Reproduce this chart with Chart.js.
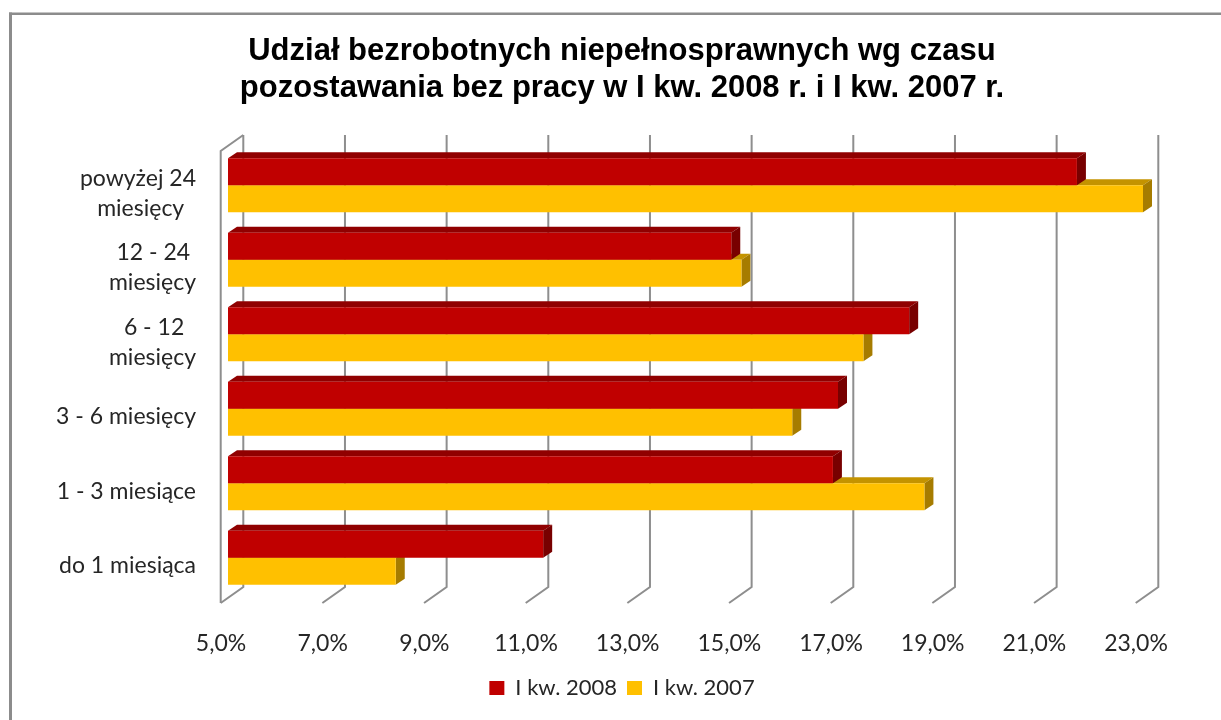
<!DOCTYPE html>
<html>
<head>
<meta charset="utf-8">
<script src="https://cdn.jsdelivr.net/npm/chart.js@4/dist/chart.umd.min.js"></script>
<style>
  html, body { margin: 0; padding: 0; background: #fff; }
</style>
</head>
<body>
<canvas id="unemployedChart" width="1221" height="720"></canvas>
<script>
const categories = [
    ['powyżej 24', 'miesięcy'],
    ['12 - 24', 'miesięcy'],
    ['6 - 12', 'miesięcy'],
    '3 - 6 miesięcy',
    '1 - 3 miesiące',
    'do 1 miesiąca'
];
const seriesNames = ['I kw. 2008', 'I kw. 2007'];
const share2008 = [21.7, 14.9, 18.4, 17.0, 16.9, 11.2];
const share2007 = [23.0, 15.1, 17.5, 16.1, 18.7, 8.3];
const axisMin = 5;
const axisMax = 23;
const axisStep = 2;

const frontColors = ['#c00000', '#ffc000'];
const topColors = ['#900000', '#c49300'];
const sideColors = ['#780000', '#a67c00'];

// Excel centres the lines of a wrapped label, so pad short lines with spaces
const measure = document.createElement('canvas').getContext('2d');
measure.font = '23px Lato';
function centerLines(label) {
    if (!Array.isArray(label)) return label;
    const w = l => measure.measureText(l).width;
    const widest = Math.max(...label.map(w));
    return label.map(l => {
        let s = l;
        const want = w(l) + (widest - w(l)) / 2;
        while (w(s + ' ') <= want + 2) s += ' ';
        return s;
    });
}

// fake 3D: back wall grid, floor lines and the top/side faces of bars
const fake3d = {
    id: 'fake3d',
    afterLayout(chart) {
        // category labels stick out into the left padding; widen their clip box
        chart.scales.y.left = 15;
    },
    beforeDraw(chart) {
        const ctx = chart.ctx;
        ctx.save();
        ctx.fillStyle = '#fff';
        ctx.fillRect(0, 0, chart.width, chart.height);
        ctx.strokeStyle = '#8c8c8c';
        ctx.lineWidth = 3;
        ctx.beginPath();
        ctx.moveTo(10.5, 12.5);
        ctx.lineTo(10.5, chart.height);
        ctx.stroke();
        ctx.lineWidth = 2.5;
        ctx.beginPath();
        ctx.moveTo(9, 13.75);
        ctx.lineTo(chart.width, 13.75);
        ctx.stroke();
        ctx.restore();
    },
    beforeDatasetsDraw(chart) {
        const { ctx, chartArea: area, scales: { x } } = chart;
        const backTop = area.top - 13;
        const backBottom = area.bottom - 8;
        const frontBottom = area.bottom + 8;
        ctx.save();
        ctx.lineWidth = 2;
        ctx.strokeStyle = '#8e8e8e';
        x.ticks.forEach(t => {
            const px = x.getPixelForValue(t.value);
            ctx.beginPath();
            ctx.moveTo(px + 15.3, backTop);
            ctx.lineTo(px + 15.3, backBottom);
            ctx.lineTo(px - 7.3, frontBottom);
            ctx.stroke();
        });
        const x0 = x.getPixelForValue(x.min);
        ctx.beginPath();
        ctx.moveTo(x0 - 7.3, frontBottom);
        ctx.lineTo(x0 - 7.3, backTop + 16);
        ctx.lineTo(x0 + 15.3, backTop);
        ctx.stroke();

        [1, 0].forEach(i => {
            chart.getDatasetMeta(i).data.forEach(bar => {
                const p = bar.getProps(['x', 'y', 'base', 'height'], true);
                const base = Math.max(p.base, area.left);
                const end = p.x;
                const top = p.y - p.height / 2;
                const bottom = p.y + p.height / 2;
                ctx.fillStyle = topColors[i];
                ctx.beginPath();
                ctx.moveTo(base, top);
                ctx.lineTo(end, top);
                ctx.lineTo(end + 9, top - 6);
                ctx.lineTo(base + 9, top - 6);
                ctx.closePath();
                ctx.fill();
                ctx.fillStyle = sideColors[i];
                ctx.beginPath();
                ctx.moveTo(end, top);
                ctx.lineTo(end + 9, top - 6);
                ctx.lineTo(end + 9, bottom - 6);
                ctx.lineTo(end, bottom);
                ctx.closePath();
                ctx.fill();
            });
        });
        ctx.restore();
    }
};

const ctx = document.getElementById('unemployedChart').getContext('2d');
const chart = new Chart(ctx, {
    type: 'bar',
    data: {
        labels: categories,
        datasets: [
            { label: seriesNames[0], data: share2008, backgroundColor: frontColors[0] },
            { label: seriesNames[1], data: share2007, backgroundColor: frontColors[1] }
        ]
    },
    options: {
        indexAxis: 'y',
        responsive: false,
        animation: false,
        devicePixelRatio: 1,
        categoryPercentage: 0.725,
        barPercentage: 1.0,
        layout: { padding: { left: 101, right: 78, top: 0, bottom: 11 } },
        scales: {
            x: {
                type: 'linear',
                min: axisMin,
                max: axisMax,
                grid: { display: false, drawTicks: false },
                border: { display: false },
                ticks: {
                    stepSize: axisStep,
                    padding: 34.5,
                    labelOffset: -7,
                    color: '#262626',
                    font: { family: 'Lato', size: 23 },
                    callback: v => v.toFixed(1).replace('.', ',') + '%'
                },
                afterFit: s => { s.height = 72; }
            },
            y: {
                grid: { display: false, drawTicks: false },
                border: { display: false },
                ticks: {
                    padding: 32,
                    labelOffset: 8,
                    color: '#262626',
                    font: { family: 'Lato', size: 23, lineHeight: 1.3 },
                    callback: function (value) { return centerLines(this.getLabelForValue(value)); }
                },
                afterFit: s => { s.width = 127; }
            }
        },
        plugins: {
            title: {
                display: true,
                text: ['Udział bezrobotnych niepełnosprawnych wg czasu', 'pozostawania bez pracy w I kw. 2008 r. i I kw. 2007 r.'],
                color: '#000',
                font: { family: 'Liberation Sans', size: 31, weight: 'bold', lineHeight: 1.21 },
                padding: { top: 32.5, bottom: 40.5 }
            },
            legend: {
                position: 'bottom',
                labels: {
                    boxWidth: 15,
                    boxHeight: 14,
                    padding: 10,
                    color: '#262626',
                    font: { family: 'Lato', size: 22 }
                }
            },
            tooltip: { enabled: false }
        }
    },
    plugins: [fake3d]
});
</script>
</body>
</html>
